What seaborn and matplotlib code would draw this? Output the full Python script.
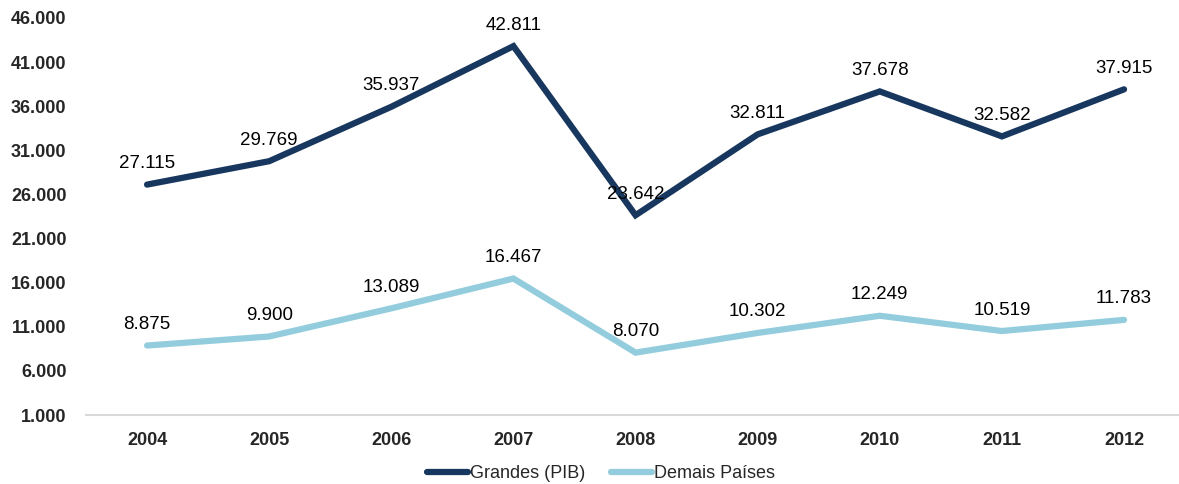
import matplotlib
matplotlib.use("Agg")
import matplotlib.pyplot as plt
import seaborn as sns
import pandas as pd
from matplotlib.lines import Line2D

years = ["2004", "2005", "2006", "2007", "2008", "2009", "2010", "2011", "2012"]
grandes = [27115, 29769, 35937, 42811, 23642, 32811, 37678, 32582, 37915]
demais = [8875, 9900, 13089, 16467, 8070, 10302, 12249, 10519, 11783]
series_names = ["Grandes (PIB)", "Demais Países"]
colors = ["#17375E", "#93CDDD"]
yticks = [1000, 6000, 11000, 16000, 21000, 26000, 31000, 36000, 41000, 46000]

def fmt(v):
    return f"{v:,.0f}".replace(",", ".")

df = pd.DataFrame({
    "x": list(range(len(years))) * 2,
    "valor": grandes + demais,
    "serie": [series_names[0]] * len(years) + [series_names[1]] * len(years),
})

sns.set_theme(style="white")
plt.rcParams["font.family"] = ["Liberation Sans", "DejaVu Sans"]

fig = plt.figure(figsize=(11.79, 4.84), dpi=100)
ax = fig.add_axes([86 / 1179, 69 / 484, 1 - 86 / 1179, (415 - 18) / 484])

sns.lineplot(data=df, x="x", y="valor", hue="serie", palette=colors,
             linewidth=4.5, ax=ax, legend=False, sort=False)
for ln in ax.lines:
    ln.set_solid_capstyle("round")
    ln.set_solid_joinstyle("miter")

for vals in (grandes, demais):
    for i, v in enumerate(vals):
        ax.annotate(fmt(v), (i, v), xytext=(0, 9), textcoords="offset points",
                    ha="center", va="bottom", fontsize=13.5, color="#000000")

ax.set_xlim(-0.5, 8.45)
ax.set_ylim(1000, 46000)
ax.set_xticks(range(len(years)))
ax.set_xticklabels(years, fontsize=13, fontweight="bold")
ax.set_yticks(yticks)
ax.set_yticklabels([fmt(t) for t in yticks], fontsize=13, fontweight="bold")
ax.tick_params(axis="x", length=0, pad=12)
ax.tick_params(axis="y", length=0, pad=14)
ax.set_xlabel("")
ax.set_ylabel("")
for s in ("top", "right", "left"):
    ax.spines[s].set_visible(False)
ax.spines["bottom"].set_color("#D9D9D9")
ax.spines["bottom"].set_linewidth(1.5)

handles = [Line2D([0], [0], color=c, linewidth=4.5, solid_capstyle="round") for c in colors]
fig.legend(handles, series_names, loc="center", bbox_to_anchor=(601 / 1179, 10 / 484),
           ncol=2, frameon=False, fontsize=13, handlelength=2.3, handletextpad=0.1,
           columnspacing=1.4, borderpad=0)

fig.savefig("out.png", dpi=100)
